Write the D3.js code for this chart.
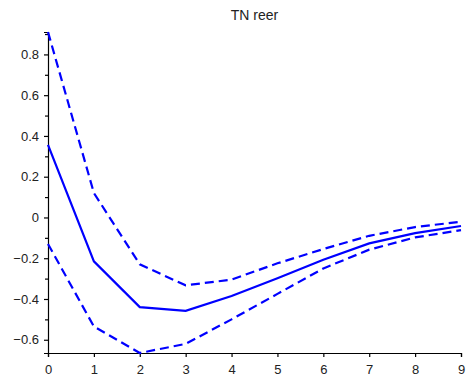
<!DOCTYPE html>
<html>
<head>
<meta charset="utf-8">
<script src="https://cdn.jsdelivr.net/npm/d3@7"></script>
<style>
  body { margin: 0; background: #fff; }
  svg { font-family: "Liberation Sans", Arial, sans-serif; }
</style>
</head>
<body>
<div id="chart"></div>
<script>
var horizon = [0, 1, 2, 3, 4, 5, 6, 7, 8, 9];
var irf   = [0.356, -0.215, -0.44, -0.458, -0.385, -0.298, -0.207, -0.127, -0.077, -0.042];
var upper = [0.91, 0.12, -0.23, -0.333, -0.305, -0.225, -0.155, -0.09, -0.047, -0.021];
var lower = [-0.13, -0.535, -0.665, -0.62, -0.5, -0.375, -0.25, -0.158, -0.098, -0.062];
var yTicks = [-0.6, -0.4, -0.2, 0, 0.2, 0.4, 0.6, 0.8];
var yMinor = [-0.5, -0.3, -0.1, 0.1, 0.3, 0.5, 0.7, 0.9];
var title = "TN reer";

var margins = { top: 32, right: 5, bottom: 26, left: 48 },
    W = 466, H = 379,
    width = W - margins.left - margins.right,
    height = H - margins.top - margins.bottom;

var svg = d3.select("#chart")
    .append("svg")
    .attr("width", W)
    .attr("height", H);

var g = svg.append("g")
    .attr("transform", "translate(" + margins.left + "," + margins.top + ")");

var allVals = upper.concat(lower, irf);
var xScale = d3.scaleLinear()
    .domain([0, 9])
    .range([0, width]);
var yScale = d3.scaleLinear()
    .domain([d3.min(allVals), d3.max(allVals)])
    .range([height, 0]);

// minor ticks first, then the labelled axis on top
g.append("g")
    .call(d3.axisLeft(yScale).tickValues(yMinor).tickSize(3).tickFormat(""))
    .call(function (a) { a.select(".domain").remove(); });

var yAxis = g.append("g")
    .call(d3.axisLeft(yScale).tickValues(yTicks).tickSize(4).tickPadding(5)
        .tickFormat(function (d) { return d === 0 ? "0" : d3.format(".1f")(d); }));

var xAxis = g.append("g")
    .attr("transform", "translate(0," + height + ")")
    .call(d3.axisBottom(xScale).tickValues(horizon).tickSize(4).tickPadding(8).tickFormat(d3.format("d")));

[yAxis, xAxis].forEach(function (a) {
    a.selectAll("text").style("font-size", "13px").style("fill", "#222")
        .style("font-family", "'Liberation Sans', Arial, sans-serif");
    a.select(".domain").attr("stroke", "#000").attr("stroke-width", 1.2);
});
g.selectAll(".tick line").attr("stroke", "#000").attr("stroke-width", 1.2);

var line = d3.line()
    .x(function (d, i) { return xScale(horizon[i]); })
    .y(function (d) { return yScale(d); });

g.append("path").datum(upper)
    .attr("d", line).attr("fill", "none")
    .attr("stroke", "#0000ff").attr("stroke-width", 2.2)
    .attr("stroke-dasharray", "9,5");

g.append("path").datum(lower)
    .attr("d", line).attr("fill", "none")
    .attr("stroke", "#0000ff").attr("stroke-width", 2.2)
    .attr("stroke-dasharray", "9,5");

g.append("path").datum(irf)
    .attr("d", line).attr("fill", "none")
    .attr("stroke", "#0000ff").attr("stroke-width", 2.2);

svg.append("text")
    .attr("x", margins.left + width / 2)
    .attr("y", 20)
    .attr("text-anchor", "middle")
    .style("font-size", "14px")
    .style("fill", "#222")
    .text(title);
</script>
</body>
</html>
